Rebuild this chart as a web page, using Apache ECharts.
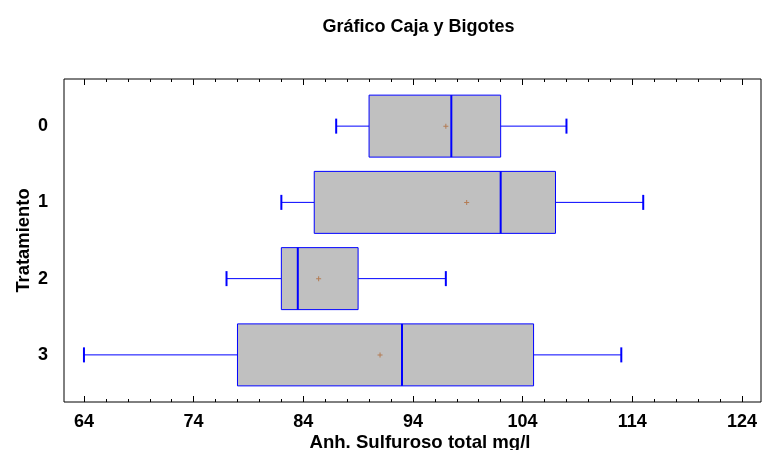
<!DOCTYPE html>
<html>
<head>
<meta charset="utf-8">
<script src="https://cdn.jsdelivr.net/npm/echarts@6/dist/echarts.min.js"></script>
<style>
html,body{margin:0;padding:0;background:#fff;}
#chart{width:762px;height:450px;}
</style>
</head>
<body>
<div id="chart"></div>
<script>
const categories = ['0', '1', '2', '3'];
const lowWhisker = [87, 82, 77, 64];
const q1 = [90, 85, 82, 78];
const median = [97.5, 102, 83.5, 93];
const q3 = [102, 107, 89, 105];
const highWhisker = [108, 115, 97, 113];
const means = [97.0, 98.9, 85.4, 91.0];
const majorTicks = [64, 74, 84, 94, 104, 114, 124];
const minorTicks = [66, 68, 70, 72, 76, 78, 80, 82, 86, 88, 90, 92, 96, 98, 100, 102,
                    106, 108, 110, 112, 116, 118, 120, 122];
const xMin = 62.18, xMax = 125.74;

const FONT = "'Liberation Sans', Arial, sans-serif";
const BLUE = '#0000ff';

const boxData = categories.map((c, i) => [i, lowWhisker[i], q1[i], median[i], q3[i], highWhisker[i]]);
const meanData = categories.map((c, i) => [means[i], i]);

function tickAxis(pos, values, len) {
  return {
    type: 'value', gridIndex: 0, position: pos, min: xMin, max: xMax,
    axisLine: { show: false },
    axisTick: { show: true, inside: true, length: len, customValues: values,
                lineStyle: { color: '#000', width: 1 } },
    axisLabel: { show: false },
    splitLine: { show: false }
  };
}

const chart = echarts.init(document.getElementById('chart'), null, { renderer: 'canvas' });
const option = {
  animation: false,
  backgroundColor: '#fff',
  title: {
    text: 'Gráfico Caja y Bigotes',
    left: 413.5, textAlign: 'center', top: 13,
    textStyle: { fontFamily: FONT, fontWeight: 'bold', fontSize: 18, color: '#000' }
  },
  grid: [
    { left: 64, right: 1, top: 79, bottom: 48, show: true, borderColor: '#000', borderWidth: 1,
      backgroundColor: 'transparent', containLabel: false, outerBoundsMode: 'none' },
    { left: 64, right: 1, top: 88, bottom: 57, containLabel: false, outerBoundsMode: 'none' }
  ],
  xAxis: [
    Object.assign(tickAxis('bottom', majorTicks, 6), {
      axisLabel: { show: true, customValues: majorTicks, margin: 11,
                   fontFamily: FONT, fontWeight: 'bold', fontSize: 18, color: '#000' },
      name: 'Anh. Sulfuroso total mg/l', nameLocation: 'middle', nameGap: 31,
      nameMoveOverlap: false,
      nameTextStyle: { fontFamily: FONT, fontWeight: 'bold', fontSize: 18.6, color: '#000',
                       padding: [0, 0, 0, 15] }
    }),
    tickAxis('bottom', minorTicks, 3),
    tickAxis('top', majorTicks, 6),
    tickAxis('top', minorTicks, 3),
    { type: 'value', gridIndex: 1, min: xMin, max: xMax, show: false }
  ],
  yAxis: [
    { type: 'value', gridIndex: 0, min: 0, max: 1, show: false },
    {
      type: 'category', gridIndex: 1, data: categories, inverse: true,
      axisLine: { show: false }, axisTick: { show: false }, splitLine: { show: false },
      axisLabel: { margin: 16, fontFamily: FONT, fontWeight: 'bold', fontSize: 18, color: '#000' },
      name: 'Tratamiento', nameLocation: 'middle', nameRotate: 90, nameGap: 31.5,
      nameMoveOverlap: false,
      nameTextStyle: { fontFamily: FONT, fontWeight: 'bold', fontSize: 18.4, color: '#000' }
    }
  ],
  series: [
    {
      type: 'custom', xAxisIndex: 4, yAxisIndex: 1,
      data: boxData,
      encode: { x: [1, 2, 3, 4, 5], y: 0 },
      renderItem: function (params, api) {
        const cat = api.value(0);
        const px = k => api.coord([api.value(k), cat])[0];
        const y = api.coord([api.value(1), cat])[1];
        const band = api.size([0, 1])[1];
        const bh = band * 0.813;
        const ch = band * 0.197;
        const xl = px(1), x1 = px(2), xm = px(3), x3 = px(4), xh = px(5);
        const ls = { stroke: BLUE, lineWidth: 1 };
        return {
          type: 'group',
          children: [
            { type: 'line', shape: { x1: xl, y1: y, x2: x1, y2: y }, style: ls },
            { type: 'line', shape: { x1: x3, y1: y, x2: xh, y2: y }, style: ls },
            { type: 'line', shape: { x1: xl, y1: y - ch / 2, x2: xl, y2: y + ch / 2 }, style: { stroke: BLUE, lineWidth: 2 } },
            { type: 'line', shape: { x1: xh, y1: y - ch / 2, x2: xh, y2: y + ch / 2 }, style: { stroke: BLUE, lineWidth: 2 } },
            { type: 'rect', shape: { x: x1, y: y - bh / 2, width: x3 - x1, height: bh },
              style: { fill: '#c0c0c0', stroke: BLUE, lineWidth: 1 } },
            { type: 'line', shape: { x1: xm, y1: y - bh / 2, x2: xm, y2: y + bh / 2 }, style: { stroke: BLUE, lineWidth: 2 } }
          ]
        };
      },
      z: 2
    },
    {
      type: 'scatter', xAxisIndex: 4, yAxisIndex: 1,
      data: meanData,
      symbol: 'path://M2,0H3V2H5V3H3V5H2V3H0V2H2Z',
      symbolSize: 5,
      itemStyle: { color: '#b06a38' },
      z: 3
    }
  ]
};
chart.setOption(option);
</script>
</body>
</html>
